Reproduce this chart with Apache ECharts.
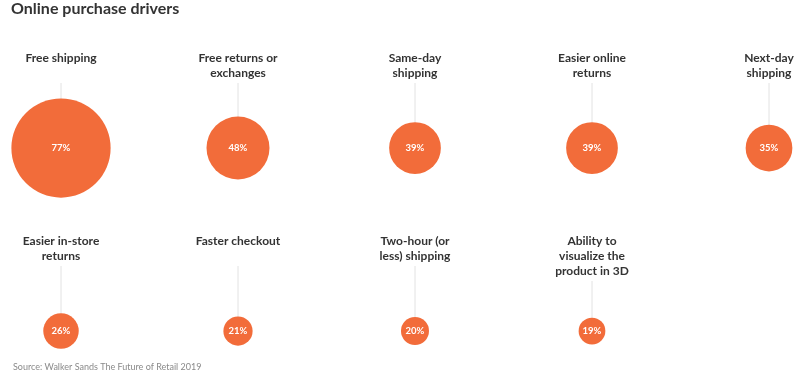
<!DOCTYPE html>
<html>
<head>
<meta charset="utf-8">
<script src="https://cdn.jsdelivr.net/npm/echarts@6/dist/echarts.min.js"></script>
<style>
  html, body { margin: 0; padding: 0; background: #fff; }
  #chart { width: 800px; height: 377px; }
</style>
</head>
<body>
<div id="chart"></div>
<script>
const categories = [
  "Free shipping", "Free returns or\nexchanges", "Same-day\nshipping", "Easier online\nreturns", "Next-day\nshipping",
  "Easier in-store\nreturns", "Faster checkout", "Two-hour (or\nless) shipping", "Ability to\nvisualize the\nproduct in 3D"
];
const values = [77, 48, 39, 39, 35, 26, 21, 20, 19];

const PER_ROW = 5;
const ORANGE = "#f26c3a";
const FONT = "Lato, 'Noto Sans', sans-serif";

const points = values.map((v, i) => [i % PER_ROW, Math.floor(i / PER_ROW), v, i]);

const chart = echarts.init(document.getElementById("chart"));

const option = {
  animation: false,
  title: [
    {
      text: "Online purchase drivers",
      left: 11,
      top: 1,
      padding: 0,
      textStyle: { fontFamily: FONT, fontSize: 16, fontWeight: "bold", color: "#333" }
    },
    {
      text: "Source: Walker Sands The Future of Retail 2019",
      left: 13,
      top: 363,
      padding: 0,
      textStyle: { fontFamily: FONT, fontSize: 9, fontWeight: "normal", color: "#8a8a8a" }
    }
  ],
  grid: { left: 61, right: 31, top: 148, bottom: 46 },
  xAxis: { type: "value", min: 0, max: PER_ROW - 1, show: false },
  yAxis: { type: "value", min: 0, max: 1, inverse: true, show: false },
  series: [
    {
      // connector lines + category labels
      type: "custom",
      z: 1,
      silent: true,
      data: points,
      renderItem: (params, api) => {
        const c = api.coord([api.value(0), api.value(1)]);
        const label = categories[api.value(3)];
        const lines = label.split("\n").length;
        const top = c[1] - 97;
        const lineTop = top + Math.max(lines, 2) * 15 + 2;
        return {
          type: "group",
          children: [
            {
              type: "line",
              shape: { x1: c[0], y1: lineTop, x2: c[0], y2: c[1] },
              style: { stroke: "#e2e2e2", lineWidth: 1 }
            },
            {
              type: "text",
              x: c[0],
              y: top,
              style: {
                text: label,
                align: "center",
                verticalAlign: "top",
                lineHeight: 15,
                fontFamily: FONT,
                fontSize: 12,
                fontWeight: "bold",
                fill: "#333"
              }
            }
          ]
        };
      }
    },
    {
      type: "scatter",
      z: 2,
      data: points,
      symbol: "circle",
      symbolSize: (val) => val[2] * 1.25 + 3,
      itemStyle: { color: ORANGE, opacity: 1 },
      label: {
        show: true,
        position: "inside",
        formatter: (p) => p.value[2] + "%",
        color: "#fff",
        fontFamily: FONT,
        fontSize: 9.5,
        fontWeight: "bold"
      }
    }
  ]
};

chart.setOption(option);
</script>
</body>
</html>
